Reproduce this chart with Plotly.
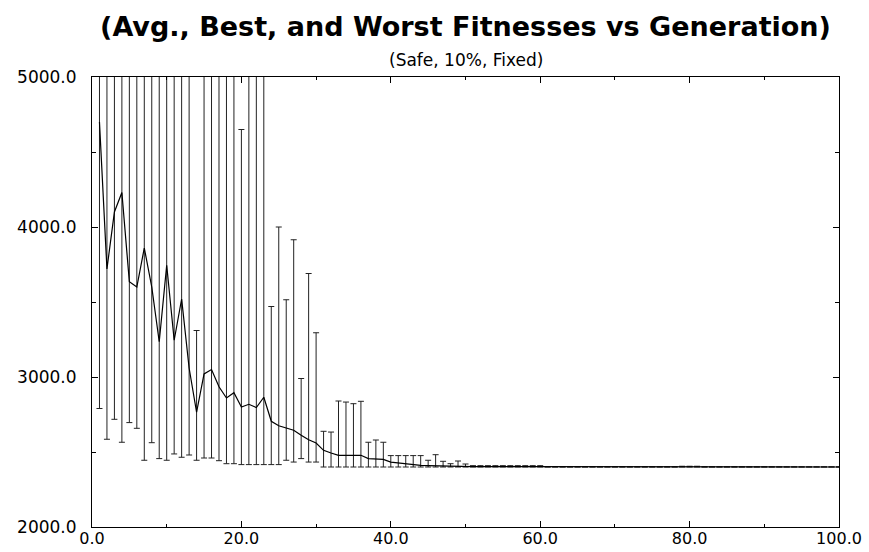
import plotly.graph_objects as go

generations = list(range(1, 101))

avg_fitness = [
    4700, 3720, 4100, 4230, 3635, 3600, 3860, 3600, 3235, 3745,
    3245, 3520, 3060, 2765, 3020, 3050, 2935, 2860, 2895, 2800,
    2818, 2796, 2865, 2705, 2675, 2658, 2645, 2611, 2582, 2560,
    2511, 2493, 2478, 2478, 2478, 2478, 2456, 2456, 2451, 2433,
    2427, 2422, 2416, 2411, 2409, 2407, 2405, 2404, 2404, 2403,
    2402, 2402, 2402, 2402, 2402, 2402, 2402, 2402, 2402, 2402,
    2400, 2400, 2400, 2400, 2400, 2400, 2400, 2400, 2400, 2400,
    2400, 2400, 2400, 2400, 2400, 2400, 2400, 2400, 2400, 2400,
    2400, 2400, 2400, 2400, 2400, 2400, 2400, 2400, 2400, 2400,
    2400, 2400, 2400, 2400, 2400, 2400, 2400, 2400, 2400, 2400,
]

best_fitness = [
    2790, 2585, 2718, 2565, 2696, 2658, 2445, 2562, 2456, 2445,
    2487, 2465, 2480, 2445, 2460, 2460, 2442, 2422, 2422, 2416,
    2416, 2416, 2416, 2416, 2416, 2445, 2433, 2456, 2433, 2433,
    2400, 2400, 2400, 2400, 2400, 2400, 2400, 2400, 2400, 2400,
    2400, 2400, 2400, 2400, 2400, 2400, 2400, 2400, 2400, 2400,
    2400, 2400, 2400, 2400, 2400, 2400, 2400, 2400, 2400, 2400,
    2400, 2400, 2400, 2400, 2400, 2400, 2400, 2400, 2400, 2400,
    2400, 2400, 2400, 2400, 2400, 2400, 2400, 2400, 2400, 2400,
    2400, 2400, 2400, 2400, 2400, 2400, 2400, 2400, 2400, 2400,
    2400, 2400, 2400, 2400, 2400, 2400, 2400, 2400, 2400, 2400,
]

worst_fitness = [
    5900, 5700, 5800, 5900, 5600, 5700, 5800, 5600, 5500, 5700,
    5600, 5800, 5500, 3310, 5600, 5700, 5500, 5400, 5600, 4650,
    5500, 5400, 5300, 3470, 4000, 3515, 3915, 2990, 3690, 3295,
    2638, 2633, 2840, 2833, 2822, 2838, 2565, 2580, 2565, 2476,
    2476, 2476, 2476, 2476, 2445, 2482, 2438, 2422, 2440, 2420,
    2409, 2409, 2409, 2409, 2409, 2409, 2409, 2409, 2409, 2409,
    2401, 2401, 2401, 2401, 2401, 2401, 2401, 2401, 2401, 2401,
    2401, 2401, 2401, 2401, 2401, 2401, 2401, 2401, 2405, 2405,
    2405, 2401, 2401, 2401, 2401, 2401, 2401, 2401, 2401, 2401,
    2401, 2401, 2401, 2401, 2401, 2401, 2401, 2401, 2401, 2401,
]

err_plus = [w - a for w, a in zip(worst_fitness, avg_fitness)]
err_minus = [a - b for a, b in zip(avg_fitness, best_fitness)]

fig = go.Figure()
fig.add_trace(go.Scatter(
    x=generations, y=avg_fitness, mode="lines",
    line=dict(color="black", width=1.2),
    error_y=dict(type="data", symmetric=False, array=err_plus,
                 arrayminus=err_minus, color="#222222", thickness=1, width=3),
    showlegend=False,
))

axis_common = dict(
    showline=True, linecolor="black", linewidth=1, mirror="ticks",
    ticks="inside", ticklen=6, tickwidth=1, tickcolor="black",
    showgrid=False, zeroline=False, tickformat=".1f",
)

fig.update_xaxes(range=[0, 100], dtick=20, tick0=0, ticklabelstandoff=-3,
                 tickfont=dict(family="DejaVu Sans", size=16, color="black"),
                 minor=dict(dtick=10, ticks="inside", ticklen=3,
                            tickcolor="black", showgrid=False),
                 **axis_common)
fig.update_yaxes(range=[2000, 5000], dtick=1000, tick0=2000, ticklabelstandoff=11,
                 tickfont=dict(family="DejaVu Sans", size=17, color="black"),
                 minor=dict(dtick=500, ticks="inside", ticklen=4,
                            tickcolor="black", showgrid=False),
                 **axis_common)

fig.update_layout(
    width=869, height=552,
    margin=dict(l=92, r=30, t=77, b=25, autoexpand=False),
    paper_bgcolor="white", plot_bgcolor="white",
    title=dict(text="<b>(Avg., Best, and Worst Fitnesses vs Generation)</b>",
               font=dict(family="DejaVu Sans", size=27, color="black"),
               x=0.5, xref="paper", y=1 - 27 / 552, yref="container",
               xanchor="center", yanchor="middle"),
    annotations=[dict(text="(Safe, 10%, Fixed)", x=0.5, xref="paper",
                      y=1.037, yref="paper", xanchor="center", yanchor="middle",
                      showarrow=False,
                      font=dict(family="DejaVu Sans", size=17, color="black"))],
)

fig.write_html(
    "out.html",
    config={"displayModeBar": False},
    post_script="document.body.style.margin='0px';document.body.style.overflow='hidden';",
)
